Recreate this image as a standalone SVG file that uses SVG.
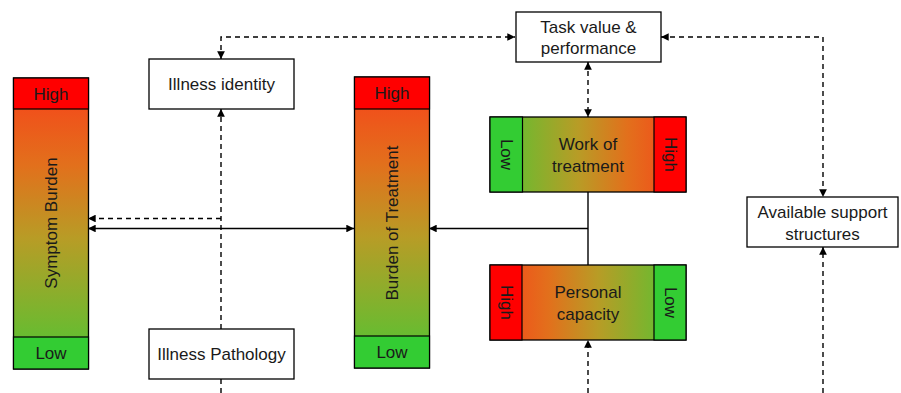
<svg xmlns="http://www.w3.org/2000/svg" width="901" height="393" viewBox="0 0 901 393">
<style>
text{font-family:"Liberation Sans",Arial,sans-serif;font-size:17px;fill:#1a1a1a;text-anchor:middle;dominant-baseline:central}
.box{fill:#fff;stroke:#000;stroke-width:1.3}
.bar{stroke:#000;stroke-width:1.3}
.hi{fill:#ff0000;stroke:#000;stroke-width:1.2}
.lo{fill:#33cc33;stroke:#000;stroke-width:1.2}
.d{fill:none;stroke:#000;stroke-width:1.4;stroke-dasharray:5 4}
.s{fill:none;stroke:#000;stroke-width:1.4}
</style>
<defs>
<linearGradient id="gv" x1="0" y1="0" x2="0" y2="1">
<stop offset="0" stop-color="#f8401a"/><stop offset="0.3" stop-color="#e2701c"/><stop offset="0.55" stop-color="#b89c26"/><stop offset="1" stop-color="#4ec634"/>
</linearGradient>
<linearGradient id="gh" x1="0" y1="0" x2="1" y2="0">
<stop offset="0" stop-color="#4ec634"/><stop offset="0.45" stop-color="#b89c26"/><stop offset="0.7" stop-color="#e2701c"/><stop offset="1" stop-color="#f8401a"/>
</linearGradient>
<linearGradient id="gh2" x1="1" y1="0" x2="0" y2="0">
<stop offset="0" stop-color="#4ec634"/><stop offset="0.45" stop-color="#b89c26"/><stop offset="0.7" stop-color="#e2701c"/><stop offset="1" stop-color="#f8401a"/>
</linearGradient>
<marker id="a" viewBox="0 0 10 10" refX="10" refY="5" markerWidth="5.5" markerHeight="5.5" orient="auto-start-reverse" markerUnits="strokeWidth"><path d="M0,0 L10,5 L0,10 Z" fill="#000"/></marker>
</defs>

<g id="connectors">
<path class="d" d="M221,59 L221,37 L515,37" marker-start="url(#a)" marker-end="url(#a)"/>
<path class="d" d="M661,37 L823,37 L823,197" marker-start="url(#a)" marker-end="url(#a)"/>
<path class="d" d="M588,62 L588,117" marker-start="url(#a)" marker-end="url(#a)"/>
<path class="d" d="M221,329 L221,109" marker-end="url(#a)"/>
<path class="d" d="M221,393 L221,379"/>
<path class="d" d="M221,218.5 L88,218.5" marker-end="url(#a)"/>
<path class="s" d="M88,228.5 L354,228.5" marker-start="url(#a)" marker-end="url(#a)"/>
<path class="s" d="M588,192 L588,265"/>
<path class="s" d="M588,228.5 L429,228.5" marker-end="url(#a)"/>
<path class="d" d="M588,393 L588,340" marker-end="url(#a)"/>
<path class="d" d="M823,393 L823,247" marker-end="url(#a)"/>
</g>

<g id="symptom-burden">
<rect class="bar" x="13.5" y="78" width="75" height="291" fill="url(#gv)"/>
<rect class="hi" x="13.5" y="78" width="75" height="31"/>
<rect class="lo" x="13.5" y="337" width="75" height="32"/>
<text x="51" y="94">High</text>
<text x="51" y="353">Low</text>
<text transform="translate(51,223) rotate(-90)">Symptom Burden</text>
</g>

<g id="illness-identity">
<rect class="box" x="149" y="59" width="145" height="50"/>
<text x="221.5" y="84">Illness identity</text>
</g>

<g id="illness-pathology">
<rect class="box" x="149" y="329" width="145" height="50"/>
<text x="221.5" y="354">Illness Pathology</text>
</g>

<g id="burden-of-treatment">
<rect class="bar" x="354.5" y="77" width="75" height="291" fill="url(#gv)"/>
<rect class="hi" x="354.5" y="77" width="75" height="32"/>
<rect class="lo" x="354.5" y="336" width="75" height="32"/>
<text x="392" y="93">High</text>
<text x="392" y="352">Low</text>
<text transform="translate(392,223) rotate(-90)">Burden of Treatment</text>
</g>

<g id="task-value">
<rect class="box" x="516" y="12" width="145" height="50"/>
<text x="588.5" y="27">Task value &amp;</text>
<text x="588.5" y="48">performance</text>
</g>

<g id="work-of-treatment">
<rect class="bar" x="490" y="117" width="196" height="75" fill="url(#gh)"/>
<rect class="lo" x="490" y="117" width="32.5" height="75"/>
<rect class="hi" x="654" y="117" width="32" height="75"/>
<text x="588" y="144">Work of</text>
<text x="588" y="166">treatment</text>
<text transform="translate(506,154.5) rotate(90)">Low</text>
<text transform="translate(670,154.5) rotate(90)">High</text>
</g>

<g id="personal-capacity">
<rect class="bar" x="490" y="265" width="196" height="75" fill="url(#gh2)"/>
<rect class="hi" x="490" y="265" width="32" height="75"/>
<rect class="lo" x="654" y="265" width="32" height="75"/>
<text x="588" y="292">Personal</text>
<text x="588" y="314">capacity</text>
<text transform="translate(506,302.5) rotate(90)">High</text>
<text transform="translate(670,302.5) rotate(90)">Low</text>
</g>

<g id="available-support">
<rect class="box" x="747" y="197" width="151" height="50"/>
<text x="822.5" y="212">Available support</text>
<text x="822.5" y="234">structures</text>
</g>
</svg>
